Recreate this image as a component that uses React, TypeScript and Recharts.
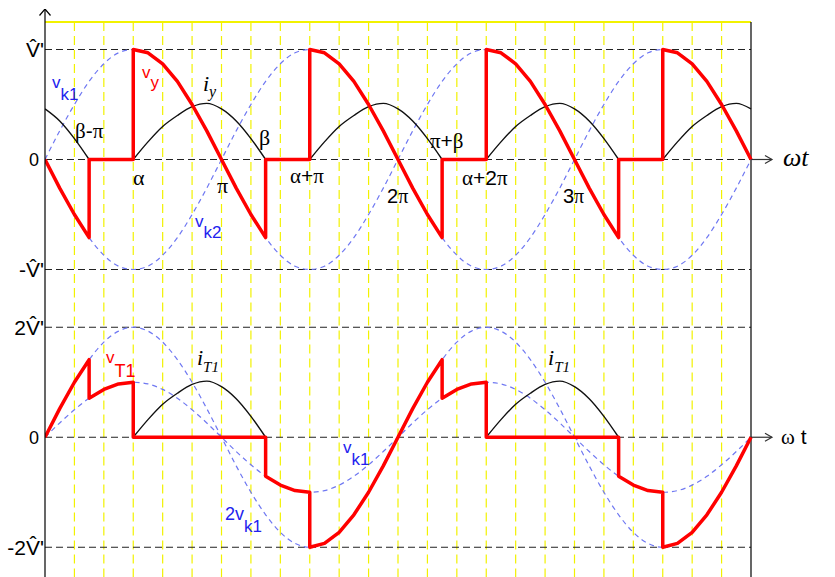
import React from "react";
import { LineChart, Line, XAxis, YAxis, ReferenceLine, ReferenceDot } from "recharts";

// ---------- data (angle in degrees, values in units of V') ----------
const sineDeg = [0, 15, 30, 45, 60, 75, 90, 105, 120, 135, 150, 165, 180, 195, 210, 225, 240, 255, 270, 285, 300, 315, 330, 345, 360, 375, 390, 405, 420, 435, 450, 465, 480, 495, 510, 525, 540, 555, 570, 585, 600, 615, 630, 645, 660, 675, 690, 705, 720];
const vk1Values = [0, 0.26, 0.5, 0.71, 0.87, 0.97, 1, 0.97, 0.87, 0.71, 0.5, 0.26, 0, -0.26, -0.5, -0.71, -0.87, -0.97, -1, -0.97, -0.87, -0.71, -0.5, -0.26, 0, 0.26, 0.5, 0.71, 0.87, 0.97, 1, 0.97, 0.87, 0.71, 0.5, 0.26, 0, -0.26, -0.5, -0.71, -0.87, -0.97, -1, -0.97, -0.87, -0.71, -0.5, -0.26, 0];
const vk2Values = [0, -0.26, -0.5, -0.71, -0.87, -0.97, -1, -0.97, -0.87, -0.71, -0.5, -0.26, 0, 0.26, 0.5, 0.71, 0.87, 0.97, 1, 0.97, 0.87, 0.71, 0.5, 0.26, 0, -0.26, -0.5, -0.71, -0.87, -0.97, -1, -0.97, -0.87, -0.71, -0.5, -0.26, 0, 0.26, 0.5, 0.71, 0.87, 0.97, 1, 0.97, 0.87, 0.71, 0.5, 0.26, 0];
const twoVk1Values = [0, 0.52, 1, 1.41, 1.73, 1.93, 2, 1.93, 1.73, 1.41, 1, 0.52, 0, -0.52, -1, -1.41, -1.73, -1.93, -2, -1.93, -1.73, -1.41, -1, -0.52, 0, 0.52, 1, 1.41, 1.73, 1.93, 2, 1.93, 1.73, 1.41, 1, 0.52, 0, -0.52, -1, -1.41, -1.73, -1.93, -2, -1.93, -1.73, -1.41, -1, -0.52, 0];

const vyDeg = [0, 15, 30, 45, 45, 90, 90, 105, 120, 135, 150, 165, 180, 195, 210, 225, 225, 270, 270, 285, 300, 315, 330, 345, 360, 375, 390, 405, 405, 450, 450, 465, 480, 495, 510, 525, 540, 555, 570, 585, 585, 630, 630, 645, 660, 675, 690, 705, 720];
const vyValues = [0, -0.26, -0.5, -0.71, 0, 0, 1, 0.97, 0.87, 0.71, 0.5, 0.26, 0, -0.26, -0.5, -0.71, 0, 0, 1, 0.97, 0.87, 0.71, 0.5, 0.26, 0, -0.26, -0.5, -0.71, 0, 0, 1, 0.97, 0.87, 0.71, 0.5, 0.26, 0, -0.26, -0.5, -0.71, 0, 0, 1, 0.97, 0.87, 0.71, 0.5, 0.26, 0];

const iyDeg = [0, 15, 30, 45, 60, 90, 105, 120, 135, 150, 165, 180, 195, 210, 225, 240, 270, 285, 300, 315, 330, 345, 360, 375, 390, 405, 420, 450, 465, 480, 495, 510, 525, 540, 555, 570, 585, 600, 630, 645, 660, 675, 690, 705, 720];
const iyValues = [0.46, 0.35, 0.19, 0, null, 0, 0.16, 0.3, 0.4, 0.48, 0.51, 0.46, 0.35, 0.19, 0, null, 0, 0.16, 0.3, 0.4, 0.48, 0.51, 0.46, 0.35, 0.19, 0, null, 0, 0.16, 0.3, 0.4, 0.48, 0.51, 0.46, 0.35, 0.19, 0, null, 0, 0.16, 0.3, 0.4, 0.48, 0.51, 0.46];

const vT1Deg = [0, 15, 30, 45, 45, 60, 75, 90, 90, 225, 225, 240, 255, 270, 270, 285, 300, 315, 330, 345, 360, 375, 390, 405, 405, 420, 435, 450, 450, 585, 585, 600, 615, 630, 630, 645, 660, 675, 690, 705, 720];
const vT1Values = [0, 0.52, 1, 1.41, 0.71, 0.87, 0.97, 1, 0, 0, -0.71, -0.87, -0.97, -1, -2, -1.93, -1.73, -1.41, -1, -0.52, 0, 0.52, 1, 1.41, 0.71, 0.87, 0.97, 1, 0, 0, -0.71, -0.87, -0.97, -1, -2, -1.93, -1.73, -1.41, -1, -0.52, 0];

const iT1Deg = [90, 105, 120, 135, 150, 165, 180, 195, 210, 225, 240, 450, 465, 480, 495, 510, 525, 540, 555, 570, 585];
const iT1Values = [0, 0.32, 0.6, 0.8, 0.96, 1.02, 0.92, 0.7, 0.38, 0, null, 0, 0.32, 0.6, 0.8, 0.96, 1.02, 0.92, 0.7, 0.38, 0];

const gridDeg = [30, 60, 90, 120, 150, 180, 210, 240, 270, 300, 330, 360, 390, 420, 450, 480, 510, 540, 570, 600, 630, 660, 690];
const topTickValues = [-1, 0, 1];
const topTickLabels = ["-V\u0302'", "0", "V\u0302'"];
const bottomTickValues = [-2, 0, 2];
const bottomTickLabels = ["-2V\u0302'", "0", "2V\u0302'"];

type Ann = { x: number; y: number; text: string; sub?: string; color: string; kind: "sans" | "greek" | "ital"; size: number; subSize?: number; subDy?: number };

const topAnnotations: Ann[] = [
  { x: 7.1, y: 0.65, text: "v", sub: "k1", color: "#2222ee", kind: "sans", size: 17, subSize: 17, subDy: 12 },
  { x: 98.9, y: 0.741, text: "v", sub: "y", color: "#ff0000", kind: "sans", size: 17, subSize: 17, subDy: 10 },
  { x: 161.1, y: 0.623, text: "i", sub: "y", color: "#000000", kind: "ital", size: 22, subSize: 16, subDy: 6 },
  { x: 30.6, y: 0.195, text: "β-π", color: "#000", kind: "greek", size: 21 },
  { x: 89.7, y: -0.232, text: "α", color: "#000", kind: "greek", size: 22 },
  { x: 175.4, y: -0.305, text: "π", color: "#000", kind: "greek", size: 22 },
  { x: 218.2, y: 0.132, text: "β", color: "#000", kind: "greek", size: 22 },
  { x: 153, y: -0.614, text: "v", sub: "k2", color: "#2222ee", kind: "sans", size: 17, subSize: 17, subDy: 11 },
  { x: 249.9, y: -0.214, text: "α+π", color: "#000", kind: "greek", size: 21 },
  { x: 348.8, y: -0.395, text: "2π", color: "#000", kind: "greek", size: 20 },
  { x: 392.6, y: 0.105, text: "π+β", color: "#000", kind: "greek", size: 21 },
  { x: 425.3, y: -0.232, text: "α+2π", color: "#000", kind: "greek", size: 21 },
  { x: 528.2, y: -0.395, text: "3π", color: "#000", kind: "greek", size: 20 },
  { x: 752.6, y: -0.059, text: "ωt", color: "#000", kind: "ital", size: 26 },
];

const bottomAnnotations: Ann[] = [
  { x: 62.2, y: 1.345, text: "v", sub: "T1", color: "#ff0000", kind: "sans", size: 17, subSize: 18, subDy: 14 },
  { x: 155, y: 1.309, text: "i", sub: "T1", color: "#000000", kind: "ital", size: 22, subSize: 15, subDy: 7 },
  { x: 513, y: 1.309, text: "i", sub: "T1", color: "#000000", kind: "ital", size: 22, subSize: 15, subDy: 7 },
  { x: 303.9, y: -0.291, text: "v", sub: "k1", color: "#2222ee", kind: "sans", size: 17, subSize: 17, subDy: 12 },
  { x: 183.6, y: -1.509, text: "2v", sub: "k1", color: "#2222ee", kind: "sans", size: 18, subSize: 17, subDy: 12 },
  { x: 750.6, y: -0.127, text: "ω t", color: "#000", kind: "greek", size: 21 },
];

// ---------- styles ----------
const RED = "#ff0000";
const BLUE_DASH = "#6f78f2";
const YELLOW = "#f2f200";
const SANS = "'Liberation Sans', Arial, sans-serif";
const SERIF = "'Liberation Serif', 'Times New Roman', serif";
const PX_PER_DEG = 706 / 720;

const toPts = (xs: number[], ys: (number | null)[]) => xs.map((x, i) => ({ x, y: ys[i] }));

const splitGreek = (s: string) => s.split(/([α-ω]+)/).filter((p) => p.length > 0);

const renderAnn = (a: Ann) => (p: any) => {
  const { cx, cy } = p;
  if (a.kind === "greek") {
    return (
      <text x={cx} y={cy} fill={a.color} fontSize={a.size}>
        {splitGreek(a.text).map((part, i) => (
          <tspan key={i} fontFamily={/[α-ω]/.test(part) ? SERIF : SANS}>{part}</tspan>
        ))}
      </text>
    );
  }
  const fam = a.kind === "ital" ? SERIF : SANS;
  const style = a.kind === "ital" ? "italic" : "normal";
  return (
    <text x={cx} y={cy} fill={a.color} fontFamily={fam} fontStyle={style} fontSize={a.size}>
      <tspan>{a.text}</tspan>
      {a.sub ? <tspan dy={a.subDy} fontSize={a.subSize}>{a.sub}</tspan> : null}
    </text>
  );
};

const makeTick = (vals: number[], labels: string[]) => (props: any) => {
  const { y, payload } = props;
  const lab = labels[vals.indexOf(payload.value)];
  if (lab === "0") {
    return <text x={39} y={y} dy="0.36em" textAnchor="end" fontSize={18} fontFamily={SANS} fill="#000">0</text>;
  }
  return <text x={44} y={y} dy="0.36em" textAnchor="end" fontSize={21} fontFamily={SANS} fill="#000">{lab}</text>;
};

const arrowUp = (p: any) => <path d={`M${p.cx - 5.5},${p.cy + 6.5} L${p.cx},${p.cy} L${p.cx + 5.5},${p.cy + 6.5}`} fill="none" stroke="#000" strokeWidth={1.2} />;
const arrowRight = (p: any) => <path d={`M${p.cx - 7},${p.cy - 4} L${p.cx},${p.cy} L${p.cx - 7},${p.cy + 4}`} fill="none" stroke="#333" strokeWidth={1.2} />;

const dashedCurve = (xs: number[], ys: number[], key: string) => (
  <Line key={key} data={toPts(xs, ys)} dataKey="y" type="monotone" stroke={BLUE_DASH} strokeWidth={1.2} strokeDasharray="5 4" dot={false} activeDot={false} isAnimationActive={false} />
);

export default function App() {
  const topMin = -1.25;
  const topMax = 1.368;
  const botMin = -2.55;
  const botMax = 2.55;
  const plotRight = 835 - 45 - 800 * PX_PER_DEG;
  return (
    <div style={{ position: "absolute", left: 0, top: 0, width: 835, height: 577, background: "#fff", overflow: "hidden" }}>
      <div style={{ position: "absolute", left: 0, top: 9 }}>
        <LineChart width={835} height={288} margin={{ top: 0, right: plotRight, bottom: 0, left: 0 }}>
          <XAxis dataKey="x" type="number" domain={[0, 800]} allowDataOverflow hide />
          <YAxis type="number" domain={[topMin, topMax]} allowDataOverflow ticks={topTickValues} interval={0} tick={makeTick(topTickValues, topTickLabels)} tickLine={false} axisLine={{ stroke: "#000", strokeWidth: 1.2 }} width={45} />
          {gridDeg.map((d) => (
            <ReferenceLine key={"g" + d} segment={[{ x: d, y: -1.25 }, { x: d, y: 1.25 }]} stroke={YELLOW} strokeWidth={1.2} strokeDasharray="9 5" />
          ))}
          <ReferenceLine segment={[{ x: 0, y: 1.25 }, { x: 720, y: 1.25 }]} stroke={YELLOW} strokeWidth={2} />
          <ReferenceLine segment={[{ x: 0, y: 1 }, { x: 720, y: 1 }]} stroke="#222" strokeWidth={1.2} strokeDasharray="7 4" />
          <ReferenceLine segment={[{ x: 0, y: -1 }, { x: 720, y: -1 }]} stroke="#222" strokeWidth={1.2} strokeDasharray="7 4" />
          <ReferenceLine segment={[{ x: 0, y: 0 }, { x: 720, y: 0 }]} stroke="#222" strokeWidth={1.2} strokeDasharray="7 4" />
          <ReferenceLine segment={[{ x: 720, y: 0 }, { x: 741.4, y: 0 }]} stroke="#333" strokeWidth={1.2} />
          <ReferenceLine segment={[{ x: 720, y: -1.25 }, { x: 720, y: 1.25 }]} stroke="#000" strokeWidth={1.2} />
          {dashedCurve(sineDeg, vk1Values, "vk1")}
          {dashedCurve(sineDeg, vk2Values, "vk2")}
          <Line data={toPts(iyDeg, iyValues)} dataKey="y" type="monotone" stroke="#111" strokeWidth={1.4} dot={false} activeDot={false} isAnimationActive={false} />
          <Line data={toPts(vyDeg, vyValues)} dataKey="y" type="linear" stroke={RED} strokeWidth={3.5} strokeLinejoin="round" dot={false} activeDot={false} isAnimationActive={false} />
          <ReferenceDot x={0} y={topMax} r={0} ifOverflow="visible" shape={arrowUp} />
          <ReferenceDot x={741.4} y={0} r={0} ifOverflow="visible" shape={arrowRight} />
          {topAnnotations.map((a, i) => (
            <ReferenceDot key={"ta" + i} x={a.x} y={a.y} r={0} ifOverflow="visible" shape={renderAnn(a)} />
          ))}
        </LineChart>
      </div>
      <div style={{ position: "absolute", left: 0, top: 296.75 }}>
        <LineChart width={835} height={280.5} margin={{ top: 0, right: plotRight, bottom: 0, left: 0 }}>
          <XAxis dataKey="x" type="number" domain={[0, 800]} allowDataOverflow hide />
          <YAxis type="number" domain={[botMin, botMax]} allowDataOverflow ticks={bottomTickValues} interval={0} tick={makeTick(bottomTickValues, bottomTickLabels)} tickLine={false} axisLine={{ stroke: "#000", strokeWidth: 1.2 }} width={45} />
          {gridDeg.map((d) => (
            <ReferenceLine key={"g" + d} segment={[{ x: d, y: botMin }, { x: d, y: botMax }]} stroke={YELLOW} strokeWidth={1.2} strokeDasharray="9 5" />
          ))}
          <ReferenceLine segment={[{ x: 0, y: 2 }, { x: 720, y: 2 }]} stroke="#222" strokeWidth={1.2} strokeDasharray="7 4" />
          <ReferenceLine segment={[{ x: 0, y: -2 }, { x: 720, y: -2 }]} stroke="#222" strokeWidth={1.2} strokeDasharray="7 4" />
          <ReferenceLine segment={[{ x: 0, y: 0 }, { x: 720, y: 0 }]} stroke="#222" strokeWidth={1.2} strokeDasharray="7 4" />
          <ReferenceLine segment={[{ x: 720, y: 0 }, { x: 741.4, y: 0 }]} stroke="#333" strokeWidth={1.2} />
          <ReferenceLine segment={[{ x: 720, y: botMin }, { x: 720, y: botMax }]} stroke="#000" strokeWidth={1.2} />
          {dashedCurve(sineDeg, vk1Values, "bvk1")}
          {dashedCurve(sineDeg, twoVk1Values, "b2vk1")}
          <Line data={toPts(iT1Deg, iT1Values)} dataKey="y" type="monotone" stroke="#111" strokeWidth={1.4} dot={false} activeDot={false} isAnimationActive={false} />
          <Line data={toPts(vT1Deg, vT1Values)} dataKey="y" type="linear" stroke={RED} strokeWidth={3.5} strokeLinejoin="round" dot={false} activeDot={false} isAnimationActive={false} />
          <ReferenceDot x={741.4} y={0} r={0} ifOverflow="visible" shape={arrowRight} />
          {bottomAnnotations.map((a, i) => (
            <ReferenceDot key={"ba" + i} x={a.x} y={a.y} r={0} ifOverflow="visible" shape={renderAnn(a)} />
          ))}
        </LineChart>
      </div>
    </div>
  );
}
